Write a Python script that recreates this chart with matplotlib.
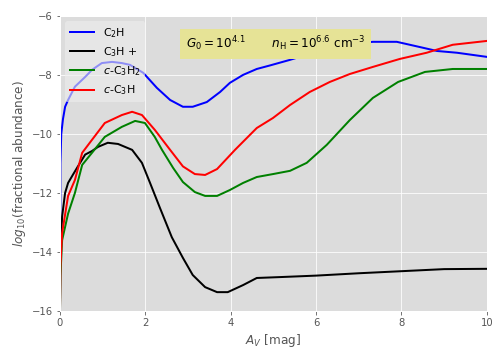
import numpy as np
import matplotlib
matplotlib.use('Agg')
import matplotlib.pyplot as plt

plt.style.use('ggplot')

# values
av_c2h = [0, 0.01, 0.03, 0.07, 0.12, 0.19, 0.35, 0.59, 0.75, 0.98, 1.22, 1.45, 1.64, 1.95,
          2.27, 2.58, 2.88, 3.11, 3.44, 3.75, 3.98, 4.29, 4.61, 4.92, 5.39, 6.16, 6.79,
          7.33, 7.89, 8.5, 8.83, 9.3, 10]
c2h = [-16, -11.0, -10.0, -9.5, -9.08, -8.85, -8.4, -8.07, -7.83, -7.6, -7.56, -7.6, -7.66, -7.93,
       -8.44, -8.85, -9.08, -9.08, -8.92, -8.58, -8.27, -8.0, -7.8, -7.68, -7.49, -7.15, -6.95,
       -6.88, -6.88, -7.08, -7.19, -7.25, -7.39]

av_c3hp = [0, 0.01, 0.05, 0.12, 0.19, 0.3, 0.42, 0.59, 0.75, 0.89, 1.12, 1.36, 1.69, 1.92,
           2.11, 2.34, 2.62, 2.88, 3.11, 3.4, 3.68, 3.93, 4.29, 4.61, 5.15, 6.0, 7.0, 8.0,
           9.0, 10]
c3hp = [-16, -14.0, -12.8, -12.0, -11.66, -11.39, -11.1, -10.7, -10.58, -10.44, -10.3, -10.34,
        -10.54, -10.98, -11.66, -12.5, -13.5, -14.2, -14.78, -15.19, -15.36, -15.36, -15.12,
        -14.88, -14.85, -14.8, -14.72, -14.65, -14.58, -14.57]

av_c3h2 = [0, 0.01, 0.05, 0.19, 0.35, 0.52, 0.75, 1.05, 1.45, 1.76, 1.99, 2.22, 2.39, 2.65,
           2.88, 3.16, 3.4, 3.68, 3.98, 4.29, 4.61, 4.99, 5.39, 5.78, 6.25, 6.79, 7.33, 7.92,
           8.55, 9.2, 10]
c3h2 = [-16, -14.8, -13.6, -12.7, -12.0, -11.05, -10.64, -10.1, -9.76, -9.56, -9.63, -10.1,
        -10.54, -11.15, -11.63, -11.97, -12.1, -12.1, -11.9, -11.66, -11.46, -11.36, -11.25,
        -10.98, -10.37, -9.53, -8.78, -8.24, -7.9, -7.8, -7.8]

av_c3h = [0, 0.01, 0.05, 0.19, 0.35, 0.52, 0.75, 1.05, 1.45, 1.69, 1.92, 2.22, 2.58, 2.88,
          3.16, 3.4, 3.68, 4.1, 4.61, 4.99, 5.39, 5.85, 6.32, 6.79, 7.33, 7.96, 8.59, 9.2, 10]
c3h = [-16, -14.5, -13.36, -12.1, -11.56, -10.64, -10.2, -9.63, -9.36, -9.25, -9.36, -9.86,
       -10.54, -11.1, -11.36, -11.39, -11.19, -10.54, -9.8, -9.46, -9.02, -8.58, -8.24, -7.97,
       -7.73, -7.46, -7.25, -6.98, -6.85]

fig = plt.figure(figsize=(7, 5), dpi=72)
ax = fig.add_axes([0.119, 0.136, 0.847, 0.82])
ax.set_facecolor('#dcdcdc')

ax.plot(av_c2h, c2h, color='blue', lw=2, label='C$_2$H')
ax.plot(av_c3hp, c3hp, color='black', lw=2, label='C$_3$H +')
ax.plot(av_c3h2, c3h2, color='green', lw=2, label='$c$-C$_3$H$_2$')
ax.plot(av_c3h, c3h, color='red', lw=2, label='$c$-C$_3$H')

ax.set_xlim(0, 10)
ax.set_ylim(-16, -6)
ax.set_xticks([0, 2, 4, 6, 8, 10])
ax.set_yticks([-16, -14, -12, -10, -8, -6])
ax.tick_params(labelsize=10, colors='#555555')
ax.set_xlabel('$A_V$ [mag]', fontsize=12, color='#555555')
ax.set_ylabel('$log_{10}$(fractional abundance)', fontsize=12, color='#555555')

leg = ax.legend(loc='upper left', fontsize=11, facecolor='#eeeeee', framealpha=0.6,
                edgecolor='none', handlelength=2.2)

ax.text(2.95, -6.95, r'$G_0 = 10^{4.1}$       $n_{\rm H} = 10^{6.6}$ cm$^{-3}$',
        fontsize=12, va='center', ha='left',
        bbox=dict(facecolor='#e6e396', edgecolor='none', pad=6))

plt.savefig('out.png', dpi=72)
